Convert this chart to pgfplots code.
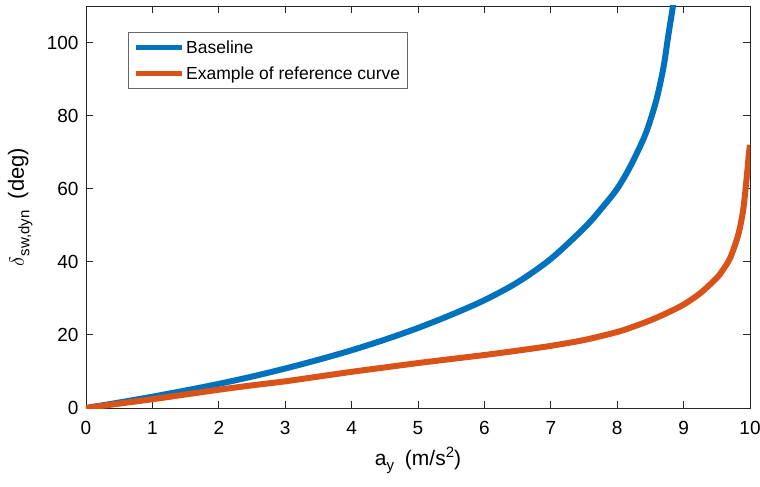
\documentclass[border=0pt]{standalone}
\usepackage{pgfplots}
\pgfplotsset{compat=1.18}
\usepackage{fontspec}
\setmainfont{Liberation Sans}
\usetikzlibrary{calc}
\definecolor{mblue}{rgb}{0,0.447,0.741}
\definecolor{morange}{rgb}{0.85,0.325,0.098}
\definecolor{axgray}{rgb}{0.15,0.15,0.15}
\newcommand{\mysub}[1]{\raisebox{-5.5pt}{\fontsize{15}{15}\selectfont #1}}
\newcommand{\mysup}[1]{\raisebox{8pt}{\fontsize{15}{15}\selectfont #1}}
\begin{document}
\begin{tikzpicture}
\begin{axis}[
  name=ax,
  scale only axis,
  width=664pt, height=402pt,
  xmin=0, xmax=10, ymin=0, ymax=110,
  xtick={0,1,...,10},
  ytick={0,20,40,60,80,100},
  tick align=inside,
  major tick length=7pt,
  axis line style={axgray, line width=0.9pt},
  every tick/.style={axgray, line width=0.9pt},
  /pgf/number format/assume math mode=true,
  tick label style={font=\fontsize{19}{22}\selectfont, text=black},
  xticklabel style={anchor=north, yshift=-10pt},
  yticklabel style={anchor=east, xshift=-4pt},
  xlabel={a\mysub{y}\hspace{5pt} (m/s\mysup{2})},
  ylabel={\fontsize{22}{22}\selectfont$\delta$\mysub{sw,dyn}\hspace{5pt} (deg)},
  xlabel style={font=\fontsize{21}{24}\selectfont, at={(axis description cs:0.5,-0.1418)}, anchor=base},
  ylabel style={font=\fontsize{21}{24}\selectfont, at={(axis description cs:-0.0934,0.5)}, anchor=base, rotate=0},
  legend style={at={(0.063,0.935)}, anchor=north west, draw=axgray!70, line width=0.8pt,
    font=\fontsize{17.5}{21}\selectfont, inner xsep=5pt, inner ysep=6pt,
    row sep=8pt},
  legend cell align=left,
  legend image code/.code={\draw[#1, line width=5pt] (0pt,0pt) -- (46pt,0pt);},
  clip=true,
]
\addplot[mblue, line width=6pt, smooth, tension=0.5] coordinates {
(0,0) (0.5,1.5) (1,3.1) (1.5,4.8) (2,6.6) (2.5,8.6) (3,10.8) (3.5,13.2)
(4,15.8) (4.5,18.7) (5,21.9) (5.5,25.5) (6,29.5) (6.5,34.4)
(7,40.8) (7.5,49.2) (7.75,54.3) (8,60.0) (8.2,66.2)
(8.4,73.8) (8.5,78.8) (8.6,85.0) (8.7,93.5) (8.77,102) (8.84,110) (8.86,113)
};
\addlegendentry{Baseline}
\addplot[morange, line width=6pt, smooth, tension=0.5] coordinates {
(0,0) (0.5,1.2) (1,2.4) (1.5,3.7) (2,5.0) (2.5,6.2) (3,7.3) (3.5,8.6)
(4,9.9) (4.5,11.1) (5,12.3) (5.5,13.4) (6,14.5) (6.5,15.7) (7,17.0)
(7.5,18.6) (8,20.8) (8.25,22.3) (8.5,24.0) (8.75,26.0)
(9,28.3) (9.25,31.4) (9.5,35.6) (9.6,38.0) (9.7,41.0) (9.8,46.0)
(9.85,49.5) (9.9,54.5) (9.95,63) (9.98,69) (10,72)
};
\addlegendentry{Example of reference curve\hspace{8pt}}
\coordinate (bl) at (rel axis cs:0,0);
\coordinate (tr) at (rel axis cs:1,1);
\end{axis}
\pgfresetboundingbox
\path[use as bounding box] ($(bl)+(-86pt,-79pt)$) rectangle ($(tr)+(10pt,6pt)$);
\end{tikzpicture}
\end{document}
